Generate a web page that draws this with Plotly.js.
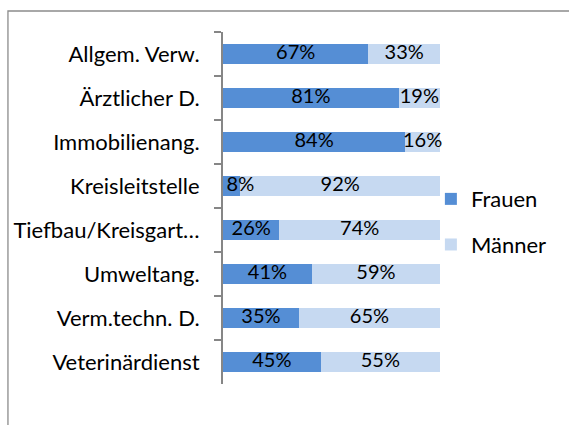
<!DOCTYPE html>
<html>
<head>
<meta charset="utf-8">
<script src="https://cdn.plot.ly/plotly-3.0.1.min.js"></script>
<style>html,body{margin:0;padding:0;background:#fff;}#chart{width:569px;height:425px;}</style>
</head>
<body>
<div id="chart"></div>
<script>
const categories = ["Allgem. Verw.", "Ärztlicher D.", "Immobilienang.", "Kreisleitstelle", "Tiefbau/Kreisgart…", "Umweltang.", "Verm.techn. D.", "Veterinärdienst"];
const frauen = [67, 81, 84, 8, 26, 41, 35, 45];
const maenner = [33, 19, 16, 92, 74, 59, 65, 55];
const seriesNames = ["Frauen", "Männer"];

const fontFam = "Lato, 'Open Sans', sans-serif";
const FS = 22;

function mk(vals, name, color) {
  return {
    type: 'bar', orientation: 'h', name: name, legendgroup: name,
    y: categories, x: vals,
    marker: {color: color, line: {width: 0}},
    hoverinfo: 'none'
  };
}

// data labels on top of both bar series, positioned at segment centres
// (small segments: Excel pushes the label just past the segment)
function labels(vals, offsets) {
  return {
    type: 'scatter', mode: 'text', showlegend: false, hoverinfo: 'none', cliponaxis: false,
    y: categories,
    x: vals.map((v, i) => offsets[i] + (v < 10 ? v : v / 2)),
    text: vals.map(v => v + '%'),
    textposition: 'middle center',
    textfont: {family: fontFam, size: 20, color: '#000'}
  };
}

const data = [
  mk(frauen, seriesNames[0], '#558ED5'),
  mk(maenner, seriesNames[1], '#C6D9F1'),
  labels(frauen, frauen.map(() => 0)),
  labels(maenner, frauen)
];

const layout = {
  width: 569, height: 425,
  margin: {l: 223, r: 129, t: 32, b: 41, pad: 0},
  barmode: 'stack', bargap: 0.56,
  paper_bgcolor: '#fff', plot_bgcolor: '#fff',
  showlegend: true,
  legend: {x: 0.958, y: 0.46, xanchor: 'left', yanchor: 'middle', bgcolor: 'rgba(0,0,0,0)', font: {family: fontFam, size: FS, color: '#000'}, tracegroupgap: 14, traceorder: 'grouped', itemwidth: 30},
  xaxis: {range: [0, 100], visible: false, fixedrange: true},
  yaxis: {
    type: 'category', autorange: 'reversed', showline: true, linecolor: '#868686', linewidth: 2,
    ticks: 'outside', tickson: 'boundaries', ticklen: 7, tickcolor: '#868686', tickwidth: 2,
    ticklabelstandoff: 17,
    tickfont: {family: fontFam, size: FS, color: '#000'}, showgrid: false, zeroline: false
  },
  shapes: [{type: 'rect', xref: 'paper', yref: 'paper', x0: -0.991, x1: 3, y0: -1, y1: 1.0597, line: {color: '#8C8C8C', width: 1.3}, fillcolor: 'rgba(0,0,0,0)', layer: 'below'}]
};

Plotly.newPlot('chart', data, layout, {displayModeBar: false, staticPlot: true});
</script>
</body>
</html>
